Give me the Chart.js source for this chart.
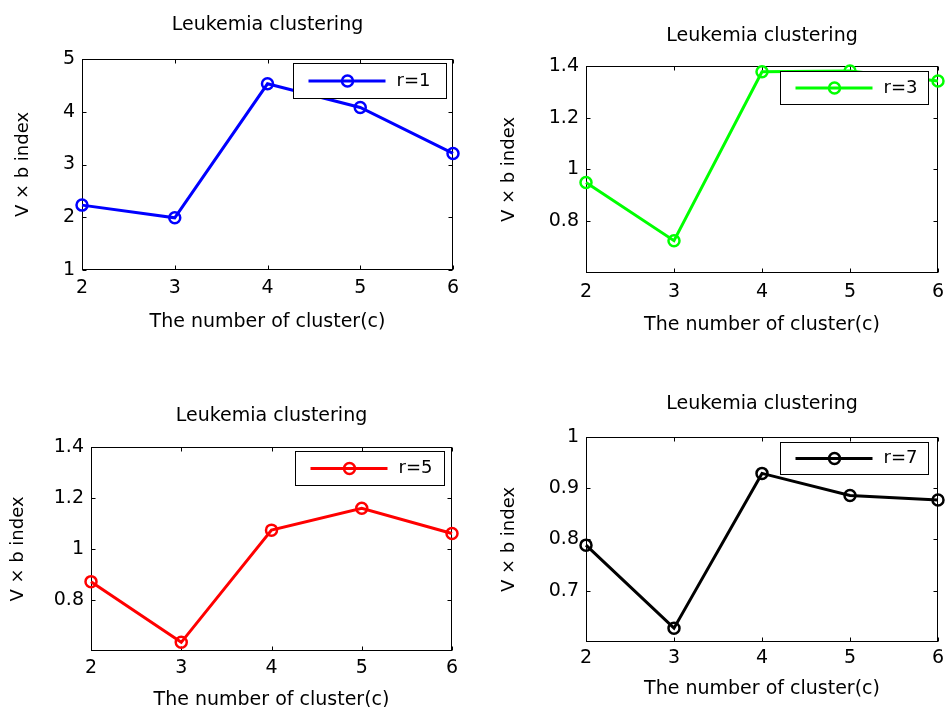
<!DOCTYPE html>
<html>
<head>
<meta charset="utf-8">
<script src="https://cdn.jsdelivr.net/npm/chart.js@4.4.1/dist/chart.umd.min.js"></script>
<style>
  html, body { margin: 0; padding: 0; background: #fff; width: 946px; height: 707px; overflow: hidden; }
  canvas { position: absolute; }
</style>
</head>
<body>
<canvas id="c1" width="470" height="345" style="left:0;top:0"></canvas>
<canvas id="c3" width="476" height="345" style="left:470px;top:0"></canvas>
<canvas id="c5" width="470" height="347" style="left:0;top:380px"></canvas>
<canvas id="c7" width="476" height="347" style="left:470px;top:380px"></canvas>
<script>
// Datos
const clusters = [2, 3, 4, 5, 6];
const r1 = [2.23, 1.99, 4.53, 4.08, 3.21];
const r3 = [0.95, 0.725, 1.378, 1.381, 1.342];
const r5 = [0.872, 0.634, 1.074, 1.16, 1.061];
const r7 = [0.789, 0.627, 0.929, 0.886, 0.877];

const yLim1 = [1, 5];
const yLim3 = [0.6, 1.4];
const yLim5 = [0.6, 1.4];
const yLim7 = [0.6, 1];

const yTicks1 = [1, 2, 3, 4, 5];
const yTicks3 = [0.8, 1, 1.2, 1.4];
const yTicks5 = [0.8, 1, 1.2, 1.4];
const yTicks7 = [0.7, 0.8, 0.9, 1];

Chart.defaults.font.family = '"DejaVu Sans"';
Chart.defaults.color = '#000';

// caja del eje con ticks hacia dentro (estilo matlab)
const frame = {
    id: 'frame',
    beforeDatasetsDraw(chart) {
        const { ctx, chartArea: a, scales: { x, y } } = chart;
        const L = 4;
        const l = Math.round(a.left) + .5, r = Math.round(a.right) - .5;
        const t = Math.round(a.top) + .5, b = Math.round(a.bottom) - .5;
        ctx.save();
        ctx.strokeStyle = '#000';
        ctx.lineWidth = 1;
        ctx.strokeRect(l, t, r - l, b - t);
        ctx.beginPath();
        y.ticks.forEach(tk => {
            const py = Math.round(y.getPixelForValue(tk.value)) + .5;
            ctx.moveTo(l, py); ctx.lineTo(l + L, py);
            ctx.moveTo(r - L, py); ctx.lineTo(r, py);
        });
        x.ticks.forEach((tk, i) => {
            const px = Math.round(x.getPixelForTick(i)) + .5;
            ctx.moveTo(px, b); ctx.lineTo(px, b - L);
            ctx.moveTo(px, t); ctx.lineTo(px, t + L);
        });
        ctx.stroke();
        ctx.restore();
    }
};

// leyenda con borde dentro del area
const boxLegend = {
    id: 'boxLegend',
    afterDatasetsDraw(chart, args, opts) {
        const { ctx, chartArea: a } = chart;
        const ds = chart.data.datasets[0];
        const left = Math.round(a.right - opts.right - opts.width) + .5;
        const top = Math.round(a.top + opts.top) + .5;
        const cy = top + opts.height / 2;
        ctx.save();
        ctx.fillStyle = '#fff';
        ctx.fillRect(left, top, opts.width, opts.height);
        ctx.strokeStyle = '#000';
        ctx.lineWidth = 1;
        ctx.strokeRect(left, top, opts.width, opts.height);
        ctx.strokeStyle = ds.borderColor;
        ctx.lineWidth = ds.borderWidth;
        ctx.beginPath(); ctx.moveTo(left + 15, cy); ctx.lineTo(left + 92, cy); ctx.stroke();
        ctx.lineWidth = ds.pointBorderWidth;
        ctx.beginPath(); ctx.arc(left + 54, cy, ds.pointRadius, 0, Math.PI * 2); ctx.stroke();
        ctx.fillStyle = '#000';
        ctx.font = '18px "DejaVu Sans"';
        ctx.textBaseline = 'middle';
        ctx.fillText(ds.label, left + 103, cy);
        ctx.restore();
    }
};

function makeChart(id, label, color, values, yLim, yTicks, g) {
    return new Chart(document.getElementById(id), {
        type: 'line',
        data: {
            labels: clusters,
            datasets: [{
                label, data: values, borderColor: color, borderWidth: 3,
                pointRadius: 5.5, pointHoverRadius: 5.5, pointBorderWidth: 2.5,
                pointBorderColor: color, pointBackgroundColor: 'rgba(0,0,0,0)', clip: false
            }]
        },
        options: {
            responsive: false, animation: false, events: [],
            layout: { padding: { left: 0, top: 0, right: g.padRight, bottom: 0 } },
            plugins: {
                legend: { display: false },
                tooltip: { enabled: false },
                title: {
                    display: true, text: 'Leukemia clustering', fullSize: false, color: '#000',
                    font: { size: 19, weight: 'normal' },
                    padding: { top: g.titleTop, bottom: g.titleBottom }
                },
                boxLegend: g.legend
            },
            scales: {
                x: {
                    grid: { display: false, drawTicks: false }, border: { display: false },
                    ticks: { color: '#000', font: { size: 19 }, padding: g.xTickPad, maxRotation: 0, autoSkip: false },
                    title: { display: true, text: 'The number of cluster(c)', color: '#000', font: { size: 19 }, padding: { top: 0, bottom: g.xTitlePad } },
                    afterFit(s) { s.height = g.xHeight; s.paddingLeft = 0; s.paddingRight = 0; }
                },
                y: {
                    min: yLim[0], max: yLim[1],
                    grid: { display: false, drawTicks: false }, border: { display: false },
                    ticks: { color: '#000', font: { size: 19 }, padding: 7, callback: v => String(v) },
                    afterBuildTicks(s) { s.ticks = yTicks.map(v => ({ value: v })); },
                    title: { display: true, text: 'V × b index', color: '#000', font: { size: 18 }, padding: { top: g.yTitlePad, bottom: 0 } },
                    afterFit(s) { s.width = g.yWidth; s.paddingTop = 0; s.paddingBottom = 0; }
                }
            }
        },
        plugins: [frame, boxLegend]
    });
}

makeChart('c1', 'r=1', '#0000ff', r1, yLim1, yTicks1, {
    padRight: 17, yWidth: 82, xHeight: 75, titleTop: 13.6, titleBottom: 22.6,
    xTickPad: 6.5, xTitlePad: 11.6, yTitlePad: 12.2,
    legend: { right: 7, top: 4, width: 153, height: 35 }
});
makeChart('c3', 'r=3', '#00ff00', r3, yLim3, yTicks3, {
    padRight: 6, yWidth: 116, xHeight: 72, titleTop: 24.9, titleBottom: 18.3,
    xTickPad: 7.5, xTitlePad: 8.6, yTitlePad: 28.2,
    legend: { right: 10, top: 5, width: 148, height: 33 }
});
makeChart('c5', 'r=5', '#ff0000', r5, yLim5, yTicks5, {
    padRight: 18, yWidth: 91, xHeight: 76, titleTop: 25.1, titleBottom: 19.1,
    xTickPad: 6, xTitlePad: 15.6, yTitlePad: 7.2,
    legend: { right: 8, top: 4, width: 149, height: 34 }
});
makeChart('c7', 'r=7', '#000000', r7, yLim7, yTicks7, {
    padRight: 7, yWidth: 116, xHeight: 85, titleTop: 12.6, titleBottom: 21.6,
    xTickPad: 5, xTitlePad: 26.1, yTitlePad: 28.2,
    legend: { right: 10, top: 5, width: 148, height: 32 }
});
</script>
</body>
</html>
